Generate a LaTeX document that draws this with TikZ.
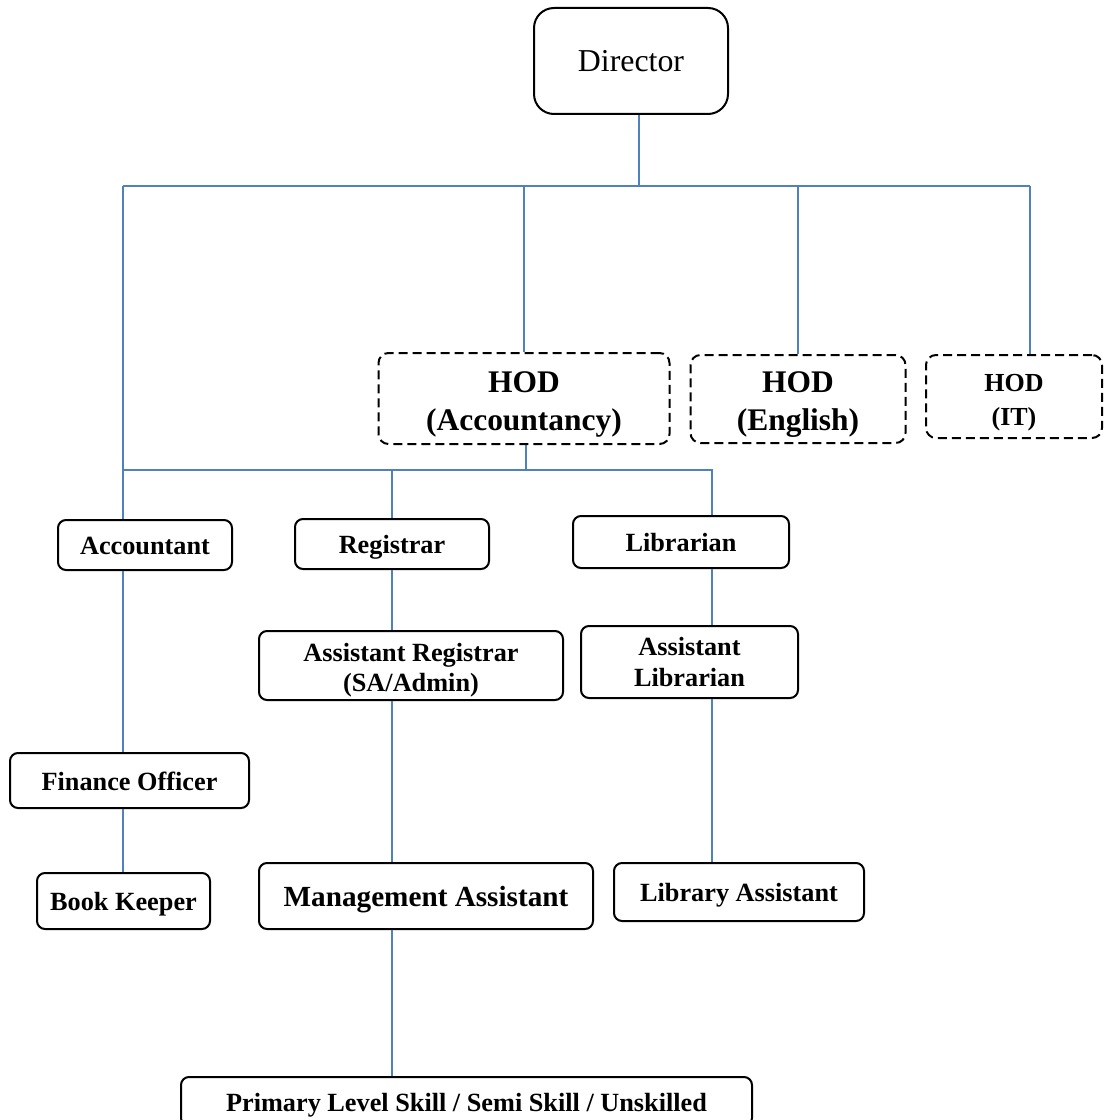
\documentclass[tikz,border=0pt]{standalone}
\usepackage{fontspec}
\setmainfont{Liberation Serif}
\definecolor{linkblue}{RGB}{79,129,189}
\tikzset{
  post/.style={draw, line width=1.5pt, rounded corners=6pt, align=center, inner sep=0pt,
    font=\bfseries\fontsize{19.7}{22.5}\selectfont},
  single/.style={text height=18.7pt, text depth=4.1pt},
  hod/.style={post, dashed, dash pattern=on 6.75pt off 3.75pt, rounded corners=7.5pt,
    font=\bfseries\fontsize{23.6}{28.5}\selectfont},
  box/.style 2 args={minimum width=#1*0.75pt, minimum height=#2*0.75pt},
  link/.style={draw=linkblue, line width=1.1pt},
}

\begin{document}
\begin{tikzpicture}[x=0.75pt,y=-0.75pt]
\useasboundingbox (0,0) rectangle (1104,1120);
\clip (0,0) rectangle (1104,1120);
% top of the chart
\node[draw, line width=1.5pt, rounded corners=15pt, box={194}{106}, font=\fontsize{23.9}{28}\selectfont] (dir) at (631,61) {Director};
\node[hod, box={291}{91}, text height=52.25pt, text depth=5pt] (hacc) at (524,398.5) {HOD\\(Accountancy)};
\node[hod, box={215}{88}, text height=51.5pt, text depth=5pt] (heng) at (798,399) {HOD\\(English)};
\node[hod, box={176}{83}, text height=47.25pt, text depth=4.5pt, font=\bfseries\fontsize{19.5}{24.8}\selectfont] (hit) at (1014,396.5) {HOD\\(IT)};
% second level
\node[post, single, box={174}{50}] (acc) at (145,545) {Accountant};
\node[post, single, box={194}{50}] (reg) at (392,544) {Registrar};
\node[post, single, box={216}{52}] (lib) at (681,542) {Librarian};
\node[post, box={304}{69}, text height=43.8pt, text depth=4.5pt] (areg) at (411,665.5) {Assistant Registrar\\(SA/Admin)};
\node[post, box={217}{72}, text height=41.3pt, text depth=4.3pt, font=\bfseries\fontsize{19.7}{23.75}\selectfont] (alib) at (689.5,662) {Assistant\\Librarian};
% lower levels
\node[post, single, box={239}{55}] (fin) at (129.5,780.5) {Finance Officer};
\node[post, single, box={173}{56}] (book) at (123.5,901) {Book Keeper};
\node[post, box={334}{66}, text height=20.8pt, text depth=4.6pt, font=\bfseries\fontsize{21.9}{26}\selectfont] (mgmt) at (426,896) {Management Assistant};
\node[post, single, box={250}{58}] (libas) at (739,892) {Library Assistant};
\node[post, single, box={571}{49}] (prim) at (466.5,1101.5) {Primary Level Skill / Semi Skill / Unskilled};
% connectors
\coordinate (top) at (639,186);
\coordinate (topL) at (123,186);
\coordinate (topR) at (1030,186);
\coordinate (mid) at (526,470);
\coordinate (midR) at (712,470);
\draw[link] (dir.south -| top) -- (top);
\draw[link] (topL) -- (topR);
\draw[link] (topL) -- (acc.north -| topL);
\draw[link] (hacc.north |- topL) -- (hacc.north);
\draw[link] (heng.north |- topL) -- (heng.north);
\draw[link] (topR) -- (topR |- hit.north);
\draw[link] (hacc.south -| mid) -- (mid);
\draw[link] (topL |- midR) -- (midR) -- (midR |- lib.north);
\draw[link] (reg.north |- midR) -- (reg.north);
\draw[link] (acc.south -| topL) -- (fin.north -| topL);
\draw[link] (fin.south -| topL) -- (book.north -| topL);
\draw[link] (reg.south) -- (reg.south |- areg.north);
\draw[link] (areg.south -| reg) -- (mgmt.north -| reg);
\draw[link] (mgmt.south -| reg) -- (prim.north -| reg);
\draw[link] (lib.south -| midR) -- (alib.north -| midR);
\draw[link] (alib.south -| midR) -- (libas.north -| midR);
\end{tikzpicture}
\end{document}
